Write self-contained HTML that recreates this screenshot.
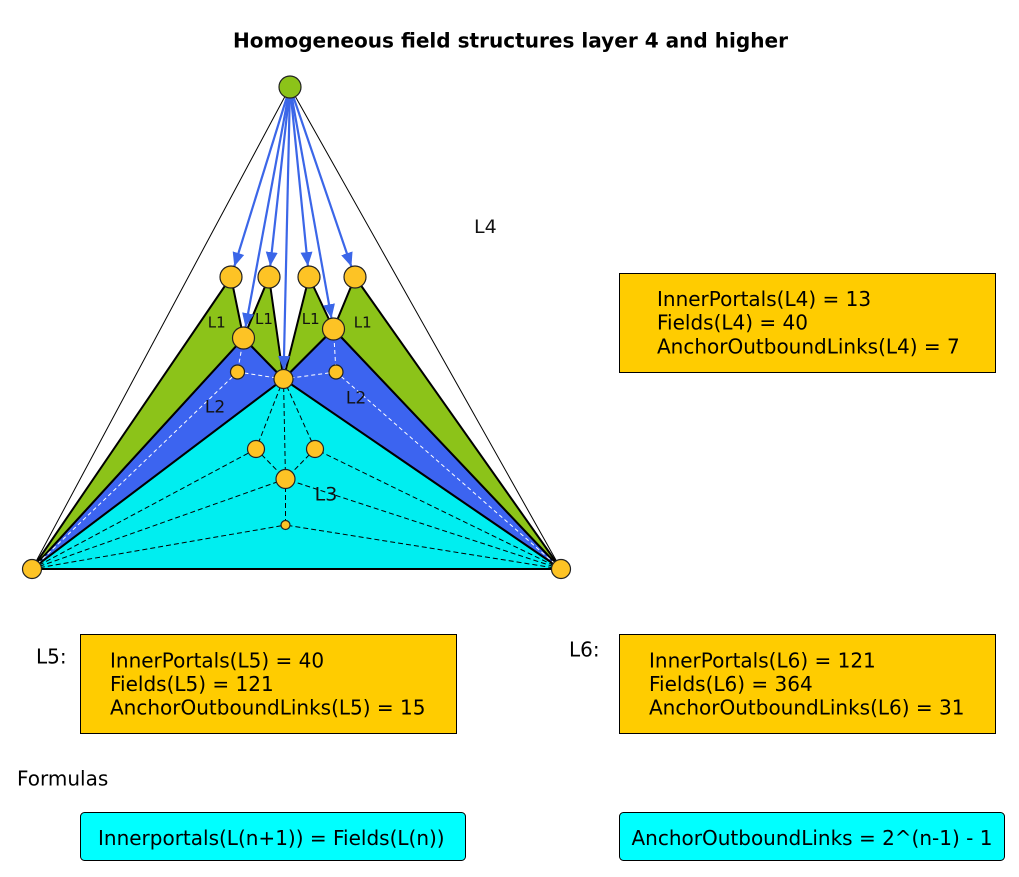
<!DOCTYPE html>
<html>
<head>
<meta charset="utf-8">
<style>
html,body{margin:0;padding:0;background:#fff;}
svg{display:block;}
text{font-family:"DejaVu Sans","Liberation Sans",sans-serif;}
</style>
</head>
<body>
<svg width="1019" height="877" viewBox="0 0 1019 877" xmlns="http://www.w3.org/2000/svg">
<defs>
<marker id="ah" markerUnits="userSpaceOnUse" markerWidth="15" markerHeight="13" refX="14" refY="6" orient="auto">
<path d="M0,0 L14,6 L0,12 z" fill="#3b66e8"/>
</marker>
</defs>
<rect width="1019" height="877" fill="#fff"/>

<text x="510.5" y="47.5" font-size="20" font-weight="bold" text-anchor="middle" fill="#000" textLength="555" lengthAdjust="spacingAndGlyphs">Homogeneous field structures layer 4 and higher</text>

<!-- outer thin lines -->
<line x1="290" y1="87" x2="32" y2="569" stroke="#000" stroke-width="1"/>
<line x1="290" y1="87" x2="561" y2="569" stroke="#000" stroke-width="1"/>

<g stroke="#000" stroke-width="2" stroke-linejoin="round">
<!-- cyan L3 -->
<polygon points="32,569 283.5,379 561,569" fill="#00eef0"/>
<!-- blue L2 -->
<polygon points="32,569 243.5,338 283.5,379" fill="#3c64f0"/>
<polygon points="283.5,379 333.5,329 561,569" fill="#3c64f0"/>
<!-- green L1 -->
<polygon points="32,569 231,277 243.5,338" fill="#8cc319"/>
<polygon points="243.5,338 269,277 283.5,379" fill="#8cc319"/>
<polygon points="283.5,379 309,277 333.5,329" fill="#8cc319"/>
<polygon points="333.5,329 355,277 561,569" fill="#8cc319"/>
</g>

<!-- white dashed lines in blue -->
<g stroke="#fff" stroke-width="1" stroke-dasharray="4 3" fill="none">
<line x1="243.5" y1="338" x2="237.5" y2="372"/>
<line x1="237.5" y1="372" x2="283.5" y2="379"/>
<line x1="237.5" y1="372" x2="32" y2="569"/>
<line x1="333.5" y1="329" x2="336" y2="372"/>
<line x1="336" y1="372" x2="283.5" y2="379"/>
<line x1="336" y1="372" x2="561" y2="569"/>
</g>

<!-- black dashed lines in cyan -->
<g stroke="#000" stroke-width="1" stroke-dasharray="5 3" fill="none">
<line x1="283.5" y1="379" x2="256" y2="449"/>
<line x1="283.5" y1="379" x2="285.5" y2="479"/>
<line x1="283.5" y1="379" x2="315" y2="449"/>
<line x1="256" y1="449" x2="285.5" y2="479"/>
<line x1="315" y1="449" x2="285.5" y2="479"/>
<line x1="285.5" y1="479" x2="285.5" y2="525"/>
<line x1="32" y1="569" x2="256" y2="449"/>
<line x1="32" y1="569" x2="285.5" y2="479"/>
<line x1="32" y1="569" x2="285.5" y2="525"/>
<line x1="561" y1="569" x2="315" y2="449"/>
<line x1="561" y1="569" x2="285.5" y2="479"/>
<line x1="561" y1="569" x2="285.5" y2="525"/>
</g>

<!-- arrows -->
<g stroke="#3b66e8" stroke-width="2.2" fill="none" marker-end="url(#ah)">
<line x1="290" y1="87" x2="234.3" y2="266.5"/>
<line x1="290" y1="87" x2="270.2" y2="266.1"/>
<line x1="290" y1="87" x2="307.9" y2="266.1"/>
<line x1="290" y1="87" x2="351.4" y2="266.6"/>
<line x1="290" y1="87" x2="245.5" y2="327.2"/>
<line x1="290" y1="87" x2="331.5" y2="318.2"/>
<line x1="290" y1="87" x2="283.7" y2="370"/>
</g>

<!-- nodes -->
<g stroke="#222" stroke-width="1.2">
<circle cx="290" cy="87" r="11" fill="#8cc319"/>
<circle cx="32" cy="569" r="9.5" fill="#fdc325"/>
<circle cx="561" cy="569" r="9.5" fill="#fdc325"/>
<circle cx="231" cy="277" r="11" fill="#fdc325"/>
<circle cx="269" cy="277" r="11" fill="#fdc325"/>
<circle cx="309" cy="277" r="11" fill="#fdc325"/>
<circle cx="355" cy="277" r="11" fill="#fdc325"/>
<circle cx="243.5" cy="338" r="11" fill="#fdc325"/>
<circle cx="333.5" cy="329" r="11" fill="#fdc325"/>
<circle cx="283.5" cy="379" r="9.5" fill="#fdc325"/>
<circle cx="237.5" cy="372" r="7" fill="#fdc325"/>
<circle cx="336" cy="372" r="7" fill="#fdc325"/>
<circle cx="256" cy="449" r="8.5" fill="#fdc325"/>
<circle cx="315" cy="449" r="8.5" fill="#fdc325"/>
<circle cx="285.5" cy="479" r="9.5" fill="#fdc325"/>
<circle cx="285.5" cy="525" r="4.5" fill="#fdc325"/>
</g>

<!-- region labels -->
<g fill="#111">
<text x="216.7" y="327.5" font-size="15" text-anchor="middle">L1</text>
<text x="264" y="324" font-size="15" text-anchor="middle">L1</text>
<text x="310.7" y="324" font-size="15" text-anchor="middle">L1</text>
<text x="362.7" y="327.5" font-size="15" text-anchor="middle">L1</text>
<text x="215" y="412.5" font-size="17" text-anchor="middle">L2</text>
<text x="356" y="403.5" font-size="17" text-anchor="middle">L2</text>
<text x="326" y="500.5" font-size="19" text-anchor="middle">L3</text>
<text x="474" y="233" font-size="19">L4</text>
</g>

<!-- L4 box -->
<rect x="619.5" y="273.5" width="376" height="99" fill="#ffcc00" stroke="#000" stroke-width="1"/>
<g font-size="20" fill="#000">
<text x="657" y="306">InnerPortals(L4) = 13</text>
<text x="657" y="329.7">Fields(L4) = 40</text>
<text x="657" y="353.3">AnchorOutboundLinks(L4) = 7</text>
</g>

<!-- L5 -->
<text x="36" y="663.3" font-size="20" fill="#000">L5:</text>
<rect x="80.5" y="634.5" width="376" height="99" fill="#ffcc00" stroke="#000" stroke-width="1"/>
<g font-size="20" fill="#000">
<text x="110" y="667.7">InnerPortals(L5) = 40</text>
<text x="110" y="691">Fields(L5) = 121</text>
<text x="110" y="714.5">AnchorOutboundLinks(L5) = 15</text>
</g>

<!-- L6 -->
<text x="569" y="656.7" font-size="20" fill="#000">L6:</text>
<rect x="619.5" y="634.5" width="376" height="99" fill="#ffcc00" stroke="#000" stroke-width="1"/>
<g font-size="20" fill="#000">
<text x="649" y="667.7">InnerPortals(L6) = 121</text>
<text x="649" y="691">Fields(L6) = 364</text>
<text x="649" y="714.5">AnchorOutboundLinks(L6) = 31</text>
</g>

<!-- Formulas -->
<text x="17" y="785.7" font-size="20" fill="#000">Formulas</text>
<rect x="80.5" y="812.5" width="385" height="48" rx="4" ry="4" fill="#00ffff" stroke="#000" stroke-width="1"/>
<text x="98" y="845" font-size="20" fill="#000">Innerportals(L(n+1)) = Fields(L(n))</text>
<rect x="619.5" y="812.5" width="385" height="48" rx="4" ry="4" fill="#00ffff" stroke="#000" stroke-width="1"/>
<text x="631.5" y="845" font-size="20" fill="#000">AnchorOutboundLinks = 2^(n-1) - 1</text>
</svg>
</body>
</html>
